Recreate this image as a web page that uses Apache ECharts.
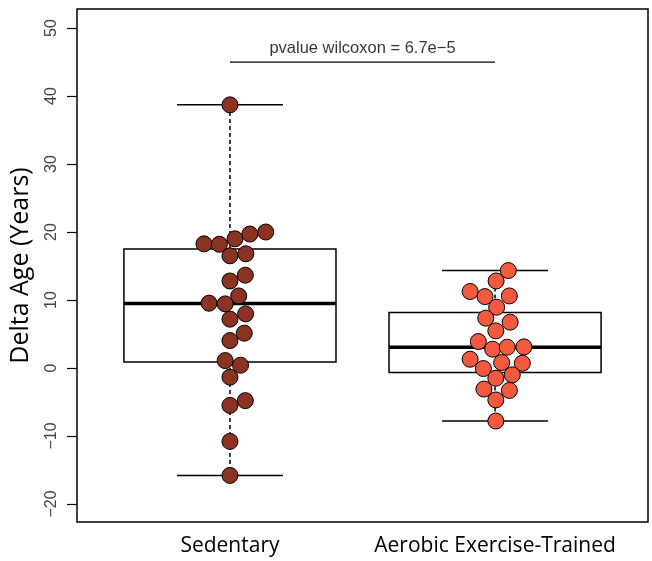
<!DOCTYPE html>
<html>
<head>
<meta charset="utf-8">
<script src="https://cdn.jsdelivr.net/npm/echarts@6/dist/echarts.min.js"></script>
<style>html,body{margin:0;padding:0;background:#fff}#c{width:652px;height:561px}</style>
</head>
<body>
<div id="c"></div>
<script>
const categories = ['Sedentary', 'Aerobic Exercise-Trained'];
const yTicks = [-20, -10, 0, 10, 20, 30, 40, 50];
// box stats: [lowerWhisker, q1, median, q3, upperWhisker]
const sedentaryBox = [-15.8, 0.9, 9.5, 17.5, 38.7];
const aerobicBox = [-7.8, -0.65, 3.06, 8.15, 14.33];
const sedentaryValues = [38.7, 18.26, 18.2, 19.0, 19.7, 20.0, 16.5, 16.8, 12.8, 13.65, 10.6, 9.53, 9.43, 7.18, 7.96, 4.03, 5.12, 1.09, 0.41, -1.35, -5.5, -4.8, -10.8, -15.8];
const sedentaryOffsets = [0, -0.098, -0.040, 0.019, 0.075, 0.135, 0, 0.060, 0, 0.058, 0.033, -0.079, -0.018, 0, 0.059, 0, 0.054, -0.018, 0.040, 0, 0, 0.058, 0, 0];
const aerobicValues = [14.33, 12.8, 11.25, 10.5, 10.6, 8.94, 7.33, 6.74, 5.46, 3.89, 2.77, 3.06, 3.1, 1.29, -0.08, 0.8, 0.7, -1.5, -1.0, -3.1, -3.3, -4.7, -7.8];
const aerobicOffsets = [0.050, 0.004, -0.094, -0.038, 0.054, 0.006, -0.035, 0.057, 0.003, -0.063, -0.009, 0.046, 0.109, -0.094, -0.044, 0.025, 0.103, 0.003, 0.065, -0.042, 0.054, 0.003, 0.003];
const pvalueText = 'pvalue wilcoxon = 6.7e\u22125';
const pvalueY = 45;

const boxData = [[1].concat(sedentaryBox), [2].concat(aerobicBox)];
const sedPts = sedentaryValues.map((v, i) => [1 + sedentaryOffsets[i], v]);
const aerPts = aerobicValues.map((v, i) => [2 + aerobicOffsets[i], v]);

const chart = echarts.init(document.getElementById('c'), null, {renderer: 'canvas'});
const boxHalf = 0.4, capHalf = 0.2;
chart.setOption({
  animation: false,
  grid: {left: 77, right: 4, top: 9, bottom: 39, show: true, borderColor: '#000', borderWidth: 1.5, backgroundColor: 'transparent'},
  xAxis: {
    type: 'value', min: 0.423, max: 2.577,
    splitLine: {show: false},
    axisLine: {show: false},
    axisTick: {show: true, length: 10, lineStyle: {color: '#000', width: 1.5}, customValues: [1, 2]},
    axisLabel: {customValues: [1, 2], formatter: v => categories[Math.round(v) - 1] || '', color: '#000', fontFamily: 'Open Sans', fontSize: 21, margin: 14}
  },
  yAxis: {
    type: 'value', min: -22.65, max: 52.8,
    name: 'Delta Age (Years)', nameLocation: 'middle', nameGap: 44, nameRotate: 90,
    nameTextStyle: {color: '#000', fontFamily: 'Open Sans', fontSize: 25},
    splitLine: {show: false},
    axisLine: {show: false},
    axisTick: {show: true, length: 10, lineStyle: {color: '#000', width: 1.2}, customValues: yTicks},
    axisLabel: {customValues: yTicks, rotate: 90, formatter: v => String(v).replace('-', '\u2212'), color: '#444', fontFamily: 'Liberation Sans', fontSize: 16, margin: 17}
  },
  series: [
    {
      type: 'custom', data: boxData, z: 2,
      encode: {x: 0, y: [1, 2, 3, 4, 5]},
      renderItem: function (params, api) {
        const x = api.value(0);
        const lo = api.value(1), q1 = api.value(2), med = api.value(3), q3 = api.value(4), hi = api.value(5);
        const c = (a, b) => api.coord([a, b]);
        const pL = c(x - boxHalf, q3), pR = c(x + boxHalf, q1);
        return {type: 'group', children: [
          {type: 'line', shape: {x1: c(x, q3)[0], y1: c(x, q3)[1], x2: c(x, hi)[0], y2: c(x, hi)[1]}, style: {stroke: '#000', lineWidth: 1.5, lineDash: [4, 3]}},
          {type: 'line', shape: {x1: c(x, q1)[0], y1: c(x, q1)[1], x2: c(x, lo)[0], y2: c(x, lo)[1]}, style: {stroke: '#000', lineWidth: 1.5, lineDash: [4, 3]}},
          {type: 'line', shape: {x1: c(x - capHalf, hi)[0], y1: c(x, hi)[1], x2: c(x + capHalf, hi)[0], y2: c(x, hi)[1]}, style: {stroke: '#000', lineWidth: 1.5}},
          {type: 'line', shape: {x1: c(x - capHalf, lo)[0], y1: c(x, lo)[1], x2: c(x + capHalf, lo)[0], y2: c(x, lo)[1]}, style: {stroke: '#000', lineWidth: 1.5}},
          {type: 'rect', shape: {x: pL[0], y: pL[1], width: pR[0] - pL[0], height: pR[1] - pL[1]}, style: {stroke: '#000', fill: '#fff', lineWidth: 1.5}},
          {type: 'line', shape: {x1: c(x - boxHalf, med)[0], y1: c(x, med)[1], x2: c(x + boxHalf, med)[0], y2: c(x, med)[1]}, style: {stroke: '#000', lineWidth: 3.5}}
        ]};
      }
    },
    {
      type: 'scatter', data: sedPts, symbol: 'circle', symbolSize: 16, z: 5,
      itemStyle: {color: '#8B3223', borderColor: '#000', borderWidth: 1, opacity: 1}
    },
    {
      type: 'scatter', data: aerPts, symbol: 'circle', symbolSize: 16, z: 5,
      itemStyle: {color: '#F2593F', borderColor: '#000', borderWidth: 1, opacity: 1}
    },
    {
      type: 'line', data: [[1, pvalueY], [2, pvalueY]], symbol: 'none', z: 3,
      lineStyle: {color: '#000', width: 1.2}
    },
    {
      type: 'scatter', data: [[1.5, pvalueY]], symbolSize: 0, z: 3,
      label: {show: true, position: 'top', distance: 5, formatter: pvalueText, color: '#000', fontFamily: 'Liberation Sans', fontSize: 16.5}
    }
  ]
});
</script>
</body>
</html>
